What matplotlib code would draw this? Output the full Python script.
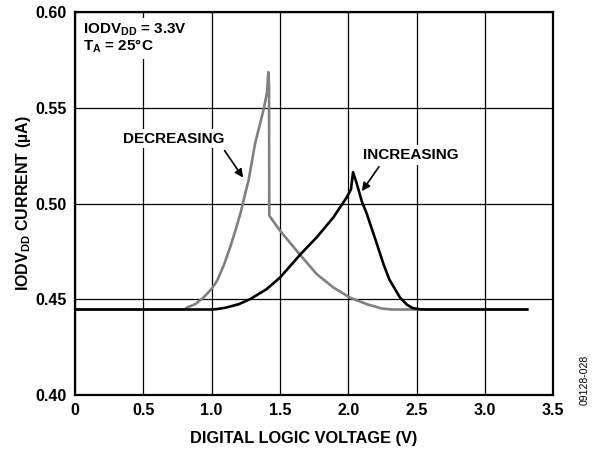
import matplotlib
matplotlib.use("Agg")
from matplotlib import pyplot as plt

plt.rcParams['font.family'] = ['Liberation Sans', 'DejaVu Sans']
plt.rcParams['font.weight'] = 'bold'
plt.rcParams['axes.labelweight'] = 'bold'
plt.rcParams['mathtext.fontset'] = 'custom'
plt.rcParams['mathtext.rm'] = 'Liberation Sans:bold'
plt.rcParams['mathtext.it'] = 'Liberation Sans:bold'
plt.rcParams['mathtext.bf'] = 'Liberation Sans:bold'

# decreasing sweep (gray)
decX = [0.0, 0.80, 0.82, 0.88, 0.94, 1.00, 1.04, 1.09, 1.135, 1.17, 1.21, 1.25, 1.27, 1.318,
        1.379, 1.405, 1.415, 1.42, 1.422, 1.50, 1.647, 1.769, 1.891, 2.013, 2.135, 2.245, 2.32, 3.31]
decY = [0.4447, 0.4447, 0.4457, 0.4475, 0.4509, 0.4555, 0.4597, 0.468, 0.4771, 0.485, 0.4946, 0.5065, 0.512, 0.5314,
        0.5487, 0.558, 0.5687, 0.562, 0.4937, 0.4859, 0.4733, 0.4632, 0.4562, 0.4509, 0.4475, 0.4452, 0.4447, 0.4447]

# increasing sweep (black)
incX = [0.0, 1.0, 1.037, 1.10, 1.20, 1.281, 1.40, 1.501, 1.647, 1.769, 1.891, 1.989, 2.02,
        2.035, 2.06, 2.10, 2.135, 2.20, 2.257, 2.30, 2.379, 2.43, 2.47, 2.52, 2.57, 3.31]
incY = [0.4447, 0.4447, 0.4449, 0.4456, 0.4475, 0.4501, 0.4552, 0.4614, 0.4733, 0.4824, 0.4928, 0.5033, 0.5075,
        0.5164, 0.511, 0.501, 0.4948, 0.481, 0.4686, 0.4605, 0.4509, 0.4472, 0.4455, 0.4448, 0.4447, 0.4447]

xTicks = [0, 0.5, 1.0, 1.5, 2.0, 2.5, 3.0, 3.5]
xTickLabels = ['0', '0.5', '1.0', '1.5', '2.0', '2.5', '3.0', '3.5']
yTicks = [0.40, 0.45, 0.50, 0.55, 0.60]
yTickLabels = ['0.40', '0.45', '0.50', '0.55', '0.60']

fig = plt.figure(figsize=(6.0, 4.51), dpi=100)
ax = fig.add_axes([0.125, 0.124, 0.797, 0.849])

ax.plot(decX, decY, color='#808080', lw=1.9, solid_joinstyle='round', zorder=3)
ax.plot(incX, incY, color='black', lw=1.9, solid_joinstyle='round', zorder=4)

ax.set_xlim(0, 3.5)
ax.set_ylim(0.40, 0.60)
ax.set_xticks(xTicks)
ax.set_xticklabels(xTickLabels)
ax.set_yticks(yTicks)
ax.set_yticklabels(yTickLabels)
ax.tick_params(length=0, labelsize=11.5, pad=6)
ax.grid(True, color='black', lw=0.9)
ax.set_axisbelow(True)
for s in ax.spines.values():
    s.set_linewidth(1.6)

ax.set_xlabel('DIGITAL LOGIC VOLTAGE (V)', fontsize=11.8)
ax.xaxis.set_label_coords(0.479, -0.095)
ax.set_ylabel('IODV$_{\\mathrm{DD}}$ CURRENT (µA)', fontsize=11.5)
ax.yaxis.set_label_coords(-0.088, 0.5)

box = dict(facecolor='white', edgecolor='none', pad=2)
ax.text(0.06, 0.595, 'IODV$_{\\mathrm{DD}}$ = 3.3V\nT$_{\\mathrm{A}}$ = 25°C', fontsize=11,
        va='top', ha='left', linespacing=0.95, zorder=2,
        bbox=dict(facecolor='white', edgecolor='none', pad=3))

ax.annotate('DECREASING', xy=(1.23, 0.5136), xytext=(0.72, 0.534), fontsize=11,
            ha='center', va='center', bbox=box, zorder=5,
            arrowprops=dict(arrowstyle='-|>', color='black', lw=1.2, mutation_scale=12,
                            shrinkA=2, shrinkB=0, relpos=(0.97, 0.0)))
ax.annotate('INCREASING', xy=(2.1, 0.5065), xytext=(2.46, 0.5255), fontsize=11,
            ha='center', va='center', bbox=box, zorder=5,
            arrowprops=dict(arrowstyle='-|>', color='black', lw=1.2, mutation_scale=12,
                            shrinkA=2, shrinkB=0, relpos=(0.2, 0.0)))

fig.text(0.975, 0.157, '09128-028', rotation=90, fontsize=7.5, fontweight='normal',
         ha='center', va='center')

fig.savefig('out.png', dpi=100)
